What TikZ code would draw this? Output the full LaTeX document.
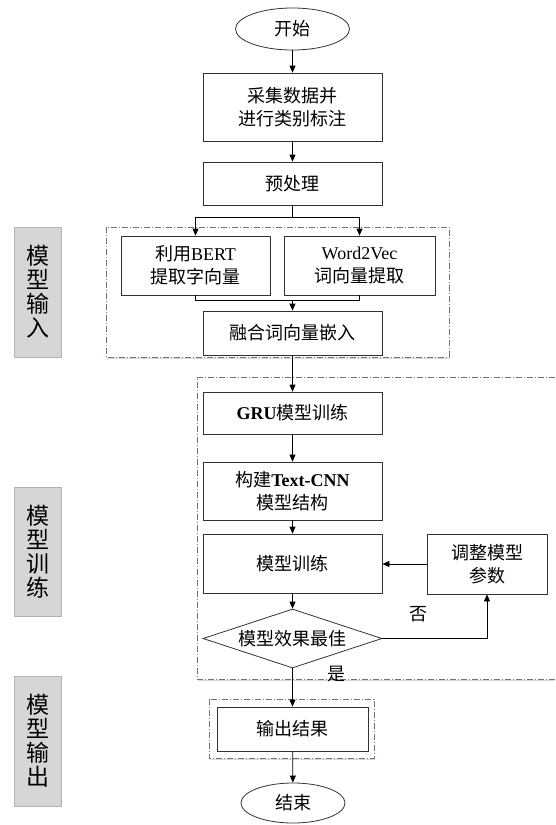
\documentclass[tikz,border=0pt]{standalone}
\usepackage{fontspec}
\setmainfont{Liberation Serif}
\newfontfamily\cjk{Noto Sans CJK SC}
\usetikzlibrary{shapes.geometric,arrows.meta}
\definecolor{shadowblue}{RGB}{205,218,236}
\tikzset{
  txt/.style={font=\fontsize{18}{23}\selectfont\cjk, align=center, inner sep=0pt},
  box/.style={txt, draw=black!80, line width=0.8pt, fill=white, minimum width=179pt},
  oval/.style={txt, ellipse, draw=black!80, line width=0.8pt, fill=white},
  judgebox/.style={txt, diamond, draw=black!80, line width=0.8pt, fill=white, aspect=3, minimum width=179pt, minimum height=59pt},
  arr/.style={-{Triangle[length=7pt,width=6pt]}, line width=0.8pt, black},
  ln/.style={line width=0.8pt, black},
  grp/.style={draw=black!55, line width=0.7pt, dash pattern=on 6pt off 2pt on 1pt off 2pt},
  grpshadow/.style={draw=shadowblue, line width=1.6pt},
  side/.style={draw=black!30, line width=0.6pt, fill=black!16, minimum width=47pt, inner sep=0pt, align=center, font=\fontsize{23}{24}\selectfont\cjk},
}
\begin{document}
\begin{tikzpicture}[x=1pt,y=-1pt]
\useasboundingbox (0,0) rectangle (555,825);

% group frames
\draw[grpshadow] (107,358.5) -- (450,358.5);
\draw[grpshadow] (198,680.5) -- (555,680.5);
\draw[grpshadow] (210,759.5) -- (375,759.5);
\draw[grp] (106,227) rectangle (449,357);
\draw[grp] (555,377) -- (197,377) -- (197,679) -- (555,679);
\draw[grp] (209,699) rectangle (374,758);

% side labels
\node[side, minimum height=130pt] (sidein) at (37.5,292) {模\\型\\输\\入};
\node[side, minimum height=129pt] (sidetrain) at (37.5,551.5) {模\\型\\训\\练};
\node[side, minimum height=130pt] (sideout) at (37.5,741) {模\\型\\输\\出};

% flow nodes
\node[oval, minimum width=114pt, minimum height=42pt] (start) at (292.5,29) {开始};
\node[box, minimum height=68pt] (collect) at (292.5,107) {采集数据并\\进行类别标注};
\node[box, minimum height=43pt] (pre) at (292.5,183.5) {预处理};
\node[box, minimum width=149pt, minimum height=59pt] (bert) at (195.5,265.5) {利用{\rmfamily BERT}\\提取字向量};
\node[box, minimum width=151pt, minimum height=59pt] (w2v) at (359.5,265.5) {{\rmfamily Word2Vec}\\词向量提取};
\node[box, minimum height=44pt] (fuse) at (292.5,333) {融合词向量嵌入};
\node[box, minimum height=42pt] (gru) at (292.5,413) {{\rmfamily\bfseries GRU}模型训练};
\node[box, minimum height=58pt] (cnn) at (292.5,491) {构建{\rmfamily\bfseries Text-CNN}\\模型结构};
\node[box, minimum height=59pt] (train) at (292.5,563.5) {模型训练};
\node[box, minimum width=120pt, minimum height=60pt] (adjust) at (487,564) {调整模型\\参数};
\node[judgebox] (judge) at (292.5,638.5) {模型效果最佳};
\node[box, minimum width=151pt, minimum height=44pt] (out) at (292.5,729) {输出结果};
\node[oval, minimum width=104pt, minimum height=40pt] (end) at (293,803) {结束};

% labels
\node[txt] (no) at (418,614) {否};
\node[txt] (yes) at (336,674) {是};

% connectors
\coordinate (split) at (292.5,217);
\coordinate (merge) at (292.5,300);
\draw[arr] (start) -- (collect);
\draw[arr] (collect) -- (pre);
\draw[ln] (pre.south) -- (split);
\draw[arr] (split) -| (bert.north);
\draw[arr] (split) -| (w2v.north);
\draw[ln] (bert.south) |- (merge);
\draw[ln] (w2v.south) |- (merge);
\draw[arr] (merge) -- (fuse.north);
\draw[arr] (fuse) -- (gru);
\draw[arr] (gru) -- (cnn);
\draw[arr] (cnn) -- (train);
\draw[arr] (train) -- (judge);
\draw[arr] (judge.east) -| (adjust.south);
\draw[arr] (adjust.west) -- (adjust.west -| train.east);
\draw[arr] (judge.south) -- (out.north);
\draw[arr] (out) -- (end);
\end{tikzpicture}
\end{document}
